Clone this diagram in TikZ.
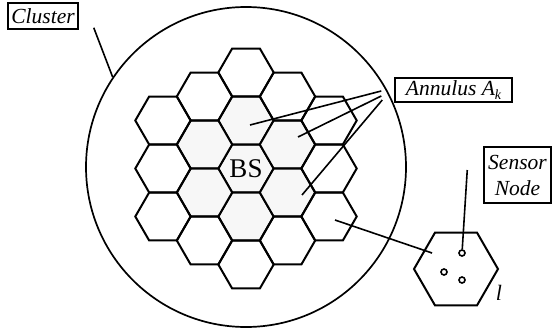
\documentclass[tikz,border=0pt]{standalone}
\usepackage{fontspec}
\setmainfont{Liberation Serif}
\usetikzlibrary{shapes.geometric}

\begin{document}
\begin{tikzpicture}[
    x=1pt, y=-1pt,
    cell/.style={regular polygon, regular polygon sides=6, minimum size=55.4pt, inner sep=0pt, outer sep=0pt, draw=black, line width=2pt},
    ring/.style={cell, fill=black!3},
    tag/.style={rectangle, draw=black, line width=1.5pt, font=\fontsize{21.5}{26}\selectfont\itshape, align=center, inner sep=0pt},
    lead/.style={line width=1.6pt, draw=black},
    mote/.style={circle, draw=black, line width=1.6pt, minimum size=6pt, inner sep=0pt},
]
\useasboundingbox (0,0) rectangle (553,329);

% cluster boundary
\node[circle, draw=black, line width=1.7pt, minimum size=320pt, inner sep=0pt] (cluster) at (246,167) {};

% hexagonal cells: column c, half-row r (shaded ones first)
\foreach \c/\r/\s in {0/0/ring, 0/-2/ring, 0/2/ring, -1/-1/ring, -1/1/ring, 1/-1/ring, 1/1/ring,
    -2/-2/cell, -2/0/cell, -2/2/cell, -1/-3/cell, -1/3/cell, 0/-4/cell, 0/4/cell,
    1/-3/cell, 1/3/cell, 2/-2/cell, 2/0/cell, 2/2/cell}
  \node[\s] (h\c_\r) at ({246+41.5*(\c)}, {168.5+24*(\r)}) {};

\node[font=\fontsize{27}{27}\selectfont] (bs) at (h0_0) {BS};

% labels
\node[tag, minimum width=70pt, minimum height=26pt] (clusterlbl) at (43,16) {Cluster};
\node[tag, minimum width=117pt, minimum height=24pt] (annlbl) at (453.5,90) {Annulus A\raisebox{-0.35ex}{\fontsize{14}{14}\selectfont k}};
\node[tag, minimum width=67pt, minimum height=56pt] (sensorlbl) at (517.5,175) {Sensor\\Node};

% enlarged sensor cell
\node[cell, minimum size=84pt] (sensorcell) at (456,269) {};
\node[mote] (m1) at (462,253) {};
\node[mote] (m2) at (444,272) {};
\node[mote] (m3) at (462,280) {};
\node[font=\fontsize{22}{22}\selectfont\itshape] (side) at (499,293) {l};

\draw[lead] ([shift={(15,-2)}]clusterlbl.south east) -- (cluster.146.7);
\draw[lead] ([shift={(-13,1)}]annlbl.west) -- ([shift={(4,4.5)}]h0_-2.center);
\draw[lead] ([shift={(-13,6)}]annlbl.west) -- ([shift={(10.5,-7.5)}]h1_-1.center);
\draw[lead] ([shift={(-12,10)}]annlbl.west) -- ([shift={(14.5,2.5)}]h1_1.center);
\draw[lead] ([shift={(6,3.5)}]h2_2.center) -- ([shift={(-24,-16)}]sensorcell.center);
\draw[lead] ([shift={(-16,-5)}]sensorlbl.west) -- (m1);

\end{tikzpicture}
\end{document}
